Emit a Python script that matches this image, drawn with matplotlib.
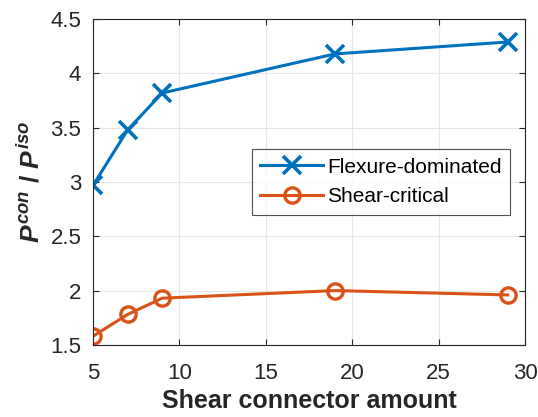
import numpy as np
from matplotlib import pyplot as plt

plt.rcParams['font.family'] = ['Liberation Sans', 'DejaVu Sans']
plt.rcParams['mathtext.fontset'] = 'custom'
plt.rcParams['mathtext.it'] = 'Liberation Sans:italic:bold'
plt.rcParams['mathtext.rm'] = 'Liberation Sans:bold'

# données
connecteurs = [5, 7, 9, 19, 29]
flexion = [2.97, 3.48, 3.82, 4.18, 4.29]
cisaillement = [1.58, 1.78, 1.93, 2.00, 1.96]

bleu = '#0072BD'
orange = '#D95319'

fig = plt.figure(figsize=(5.38, 4.17), dpi=100)
ax = fig.add_axes([0.173, 0.173, 0.803, 0.781])

ax.plot(connecteurs, flexion, '-x', color=bleu, lw=2.2, ms=13, mew=2.6,
        label='Flexure-dominated')
ax.plot(connecteurs, cisaillement, '-o', color=orange, lw=2.2, ms=11, mew=2.4,
        mfc='none', label='Shear-critical')

ax.set_xlim(5, 30)
ax.set_ylim(1.5, 4.5)
ax.set_xticks([5, 10, 15, 20, 25, 30])
ax.set_yticks([1.5, 2, 2.5, 3, 3.5, 4, 4.5])
ax.set_yticklabels(['1.5', '2', '2.5', '3', '3.5', '4', '4.5'])
ax.tick_params(direction='in', labelsize=16, top=True, right=True,
               colors='#262626', length=4)
ax.tick_params(axis='x', pad=13)
ax.tick_params(axis='y', pad=8.5)
ax.grid(True, color='#e6e6e6', lw=0.8)
ax.set_axisbelow(True)
for s in ax.spines.values():
  s.set_color('#262626')
  s.set_linewidth(0.8)

ax.set_xlabel('Shear connector amount', fontsize=18, fontweight='bold',
              color='#262626', labelpad=4)
ax.set_ylabel(r'$P^{con}$ / $P^{iso}$', fontsize=19, fontweight='bold',
              color='#262626', labelpad=4)

leg = ax.legend(loc='upper right', bbox_to_anchor=(0.965, 0.6), fontsize=15,
                frameon=True, fancybox=False, edgecolor='#262626',
                handlelength=3.0, borderpad=0.4, labelspacing=0.5,
                handletextpad=0.2, borderaxespad=0)
leg.get_frame().set_linewidth(0.8)

fig.savefig('out.png', dpi=100)
